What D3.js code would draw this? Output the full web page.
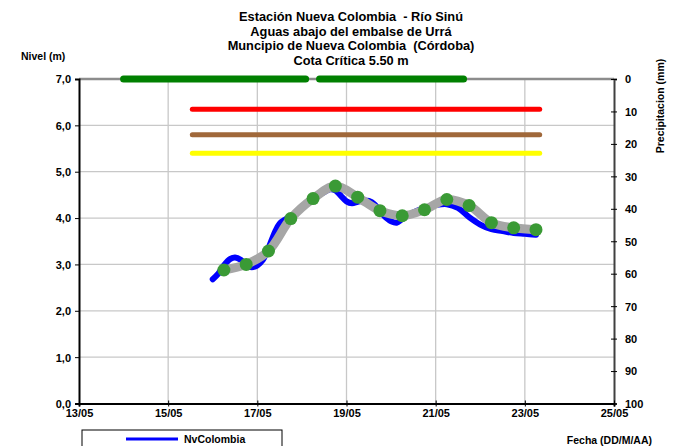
<!DOCTYPE html>
<html><head><meta charset="utf-8">
<script src="https://cdn.jsdelivr.net/npm/d3@7"></script>
<style>
body{margin:0;background:#fff;}
svg text{font-family:"Liberation Sans",Arial,sans-serif;font-weight:bold;fill:#000;white-space:pre;}
</style></head>
<body><svg id="c" width="679" height="446"></svg>
<script>
// ---------- data ----------
const titleLines = ["Estación Nueva Colombia  - Río Sinú","Aguas abajo del embalse de Urrá","Muncipio de Nueva Colombia  (Córdoba)","Cota Crítica 5.50 m"];
const levelTicks = [0,1,2,3,4,5,6,7];
const precipTicks = [0,10,20,30,40,50,60,70,80,90,100];
const dateTicks = ["2023-05-13","2023-05-15","2023-05-17","2023-05-19","2023-05-21","2023-05-23","2023-05-25"];

// observed level NvColombia
const gaugeTimes = ["2023-05-16T00:00","2023-05-16T03:00","2023-05-16T06:00","2023-05-16T09:30","2023-05-16T12:00","2023-05-16T15:00","2023-05-16T18:00","2023-05-16T21:00",
 "2023-05-17T00:00","2023-05-17T03:00","2023-05-17T06:00","2023-05-17T09:30","2023-05-17T12:00","2023-05-17T15:00","2023-05-17T18:00","2023-05-17T21:30",
 "2023-05-18T00:00","2023-05-18T06:00","2023-05-18T12:00","2023-05-18T15:00","2023-05-18T18:00","2023-05-18T21:00",
 "2023-05-19T00:00","2023-05-19T03:00","2023-05-19T06:00","2023-05-19T09:30","2023-05-19T12:00","2023-05-19T15:00","2023-05-19T18:00","2023-05-19T21:30",
 "2023-05-20T00:00","2023-05-20T03:00","2023-05-20T06:00","2023-05-20T12:00","2023-05-20T18:00",
 "2023-05-21T00:00","2023-05-21T06:00","2023-05-21T12:00","2023-05-21T18:00",
 "2023-05-22T00:00","2023-05-22T06:00","2023-05-22T12:00","2023-05-22T18:00",
 "2023-05-23T00:00","2023-05-23T06:00"];
const gaugeLevels = [2.68,2.80,2.98,3.12,3.15,3.10,2.98,2.94,
 2.98,3.10,3.35,3.70,3.88,3.97,4.03,4.15,
 4.25,4.42,4.56,4.62,4.60,4.48,
 4.36,4.32,4.35,4.38,4.37,4.30,4.15,4.00,
 3.93,3.90,3.98,4.12,4.22,
 4.28,4.30,4.22,4.02,
 3.86,3.76,3.72,3.68,
 3.66,3.64];

// 12-hourly level readings (grey line with markers)
const readingTimes = ["2023-05-16T06:00","2023-05-16T18:00","2023-05-17T06:00","2023-05-17T18:00","2023-05-18T06:00","2023-05-18T18:00","2023-05-19T06:00","2023-05-19T18:00",
 "2023-05-20T06:00","2023-05-20T18:00","2023-05-21T06:00","2023-05-21T18:00","2023-05-22T06:00","2023-05-22T18:00","2023-05-23T06:00"];
const readingLevels = [2.88,3.00,3.29,3.99,4.42,4.69,4.45,4.16,4.05,4.18,4.40,4.27,3.90,3.79,3.75];

// alert thresholds
const thresholdLevels = [6.35,5.80,5.40];
const thresholdStart = "2023-05-15T13:00";
const thresholdEnd = "2023-05-23T08:00";

// precipitation (mm) periods, value 0
const precipStarts = ["2023-05-14T00:00","2023-05-18T09:30"];
const precipEnds = ["2023-05-18T02:00","2023-05-21T15:00"];
const precipValues = [0,0];

const legendLabels = ["NvColombia"];

// ---------- styles ----------
const thresholdColors = ["#ff0000","#a0683a","#ffff00"];
const W=679,H=446, L=79, R=614, T=79, B=403.5;
const parse = d3.timeParse("%Y-%m-%dT%H:%M");
const parseD = d3.timeParse("%Y-%m-%d");

const svg = d3.select("#c");
const x = d3.scaleTime().domain([parseD(dateTicks[0]), parseD(dateTicks[dateTicks.length-1])]).range([L,R]);
const y = d3.scaleLinear().domain([0,7]).range([B,T]);
const y2 = d3.scaleLinear().domain([0,100]).range([T,B]);

// title
svg.append("g").selectAll("text").data(titleLines).join("text")
  .attr("x",351).attr("y",(d,i)=>21+i*14.7).attr("text-anchor","middle")
  .attr("xml:space","preserve")
  .attr("font-size","12.8px").text(d=>d);

// grid
const g = svg.append("g");
g.selectAll(".hg").data(levelTicks.slice(1,-1)).join("line")
  .attr("x1",L).attr("x2",R).attr("y1",d=>y(d)).attr("y2",d=>y(d))
  .attr("stroke","#c8c8c8").attr("stroke-width",1.3);
g.selectAll(".vg").data(dateTicks.slice(1,-1).map(parseD)).join("line")
  .attr("x1",d=>x(d)).attr("x2",d=>x(d)).attr("y1",T).attr("y2",B)
  .attr("stroke","#c8c8c8").attr("stroke-width",1.3);

// top border
svg.append("line").attr("x1",L).attr("x2",R).attr("y1",T).attr("y2",T).attr("stroke","#8c8c8c").attr("stroke-width",2.5);

// axes
const yAx = d3.axisLeft(y).tickValues(levelTicks).tickSize(4).tickFormat(d=>d3.format(".1f")(d).replace(".",","));
const yg = svg.append("g").attr("transform",`translate(${L},0)`).call(yAx);
yg.select(".domain").attr("stroke","#000").attr("stroke-width",2);
yg.selectAll(".tick line").attr("stroke","#000");
yg.selectAll(".tick text").attr("font-size","11px").attr("x",-8).attr("dy","0.35em");

const y2Ax = d3.axisRight(y2).tickValues(precipTicks).tickSize(3).tickFormat(d3.format("d"));
const y2g = svg.append("g").attr("transform",`translate(${R},0)`).call(y2Ax);
y2g.select(".domain").attr("stroke","#404040").attr("stroke-width",2);
y2g.selectAll(".tick line").attr("x1",-3).attr("stroke","#000");
y2g.selectAll(".tick text").attr("font-size","11px").attr("x",11).attr("dy","0.35em");

const xAx = d3.axisBottom(x).tickValues(dateTicks.map(parseD)).tickSize(3).tickFormat(d3.timeFormat("%d/%m"));
const xg = svg.append("g").attr("transform",`translate(0,${B})`).call(xAx);
xg.select(".domain").attr("stroke","#000").attr("stroke-width",2);
xg.selectAll(".tick line").attr("y1",-3).attr("stroke","#000");
xg.selectAll(".tick text").attr("font-size","11px").attr("y",6).attr("dy","0.71em");

// axis titles
svg.append("text").attr("x",21).attr("y",60).attr("font-size","10.5px").text("Nivel (m)");
svg.append("text").attr("transform","translate(664,106) rotate(-90)").attr("text-anchor","middle").attr("font-size","10.5px").text("Precipitacion (mm)");
svg.append("text").attr("x",652).attr("y",444).attr("text-anchor","end").attr("font-size","10.5px").text("Fecha (DD/M/AA)");

// thresholds
svg.append("g").selectAll("line").data(thresholdLevels).join("line")
  .attr("x1",x(parse(thresholdStart))).attr("x2",x(parse(thresholdEnd)))
  .attr("y1",d=>y(d)).attr("y2",d=>y(d))
  .attr("stroke",(d,i)=>thresholdColors[i]).attr("stroke-width",5).attr("stroke-linecap","round");

// precipitation
svg.append("g").selectAll("line").data(precipValues).join("line")
  .attr("x1",(d,i)=>x(parse(precipStarts[i]))).attr("x2",(d,i)=>x(parse(precipEnds[i])))
  .attr("y1",d=>y2(d)).attr("y2",d=>y2(d))
  .attr("stroke","#008000").attr("stroke-width",7).attr("stroke-linecap","round");

// observed blue line
const gauge = gaugeTimes.map((t,i)=>[parse(t),gaugeLevels[i]]);
svg.append("path").datum(gauge)
  .attr("d",d3.line().x(d=>x(d[0])).y(d=>y(d[1])).curve(d3.curveCatmullRom))
  .attr("fill","none").attr("stroke","#0000ff").attr("stroke-width",6).attr("stroke-linecap","round").attr("stroke-linejoin","round");

// readings grey line + markers
const reads = readingTimes.map((t,i)=>[parse(t),readingLevels[i]]);
svg.append("path").datum(reads)
  .attr("d",d3.line().x(d=>x(d[0])).y(d=>y(d[1])).curve(d3.curveCatmullRom))
  .attr("fill","none").attr("stroke","#a6a6a6").attr("stroke-width",9).attr("stroke-linejoin","round");
svg.append("g").selectAll("circle").data(reads).join("circle")
  .attr("cx",d=>x(d[0])).attr("cy",d=>y(d[1])).attr("r",6.5)
  .attr("fill","#3a9a35");

// legend
svg.append("rect").attr("x",82).attr("y",430).attr("width",200).attr("height",30)
  .attr("fill","#fff").attr("stroke","#000").attr("stroke-width",1);
svg.append("line").attr("x1",126).attr("x2",178).attr("y1",439).attr("y2",439).attr("stroke","#0000ff").attr("stroke-width",3);
svg.append("text").attr("x",184).attr("y",443).attr("font-size","10.5px").text(legendLabels[0]);
</script></body></html>
